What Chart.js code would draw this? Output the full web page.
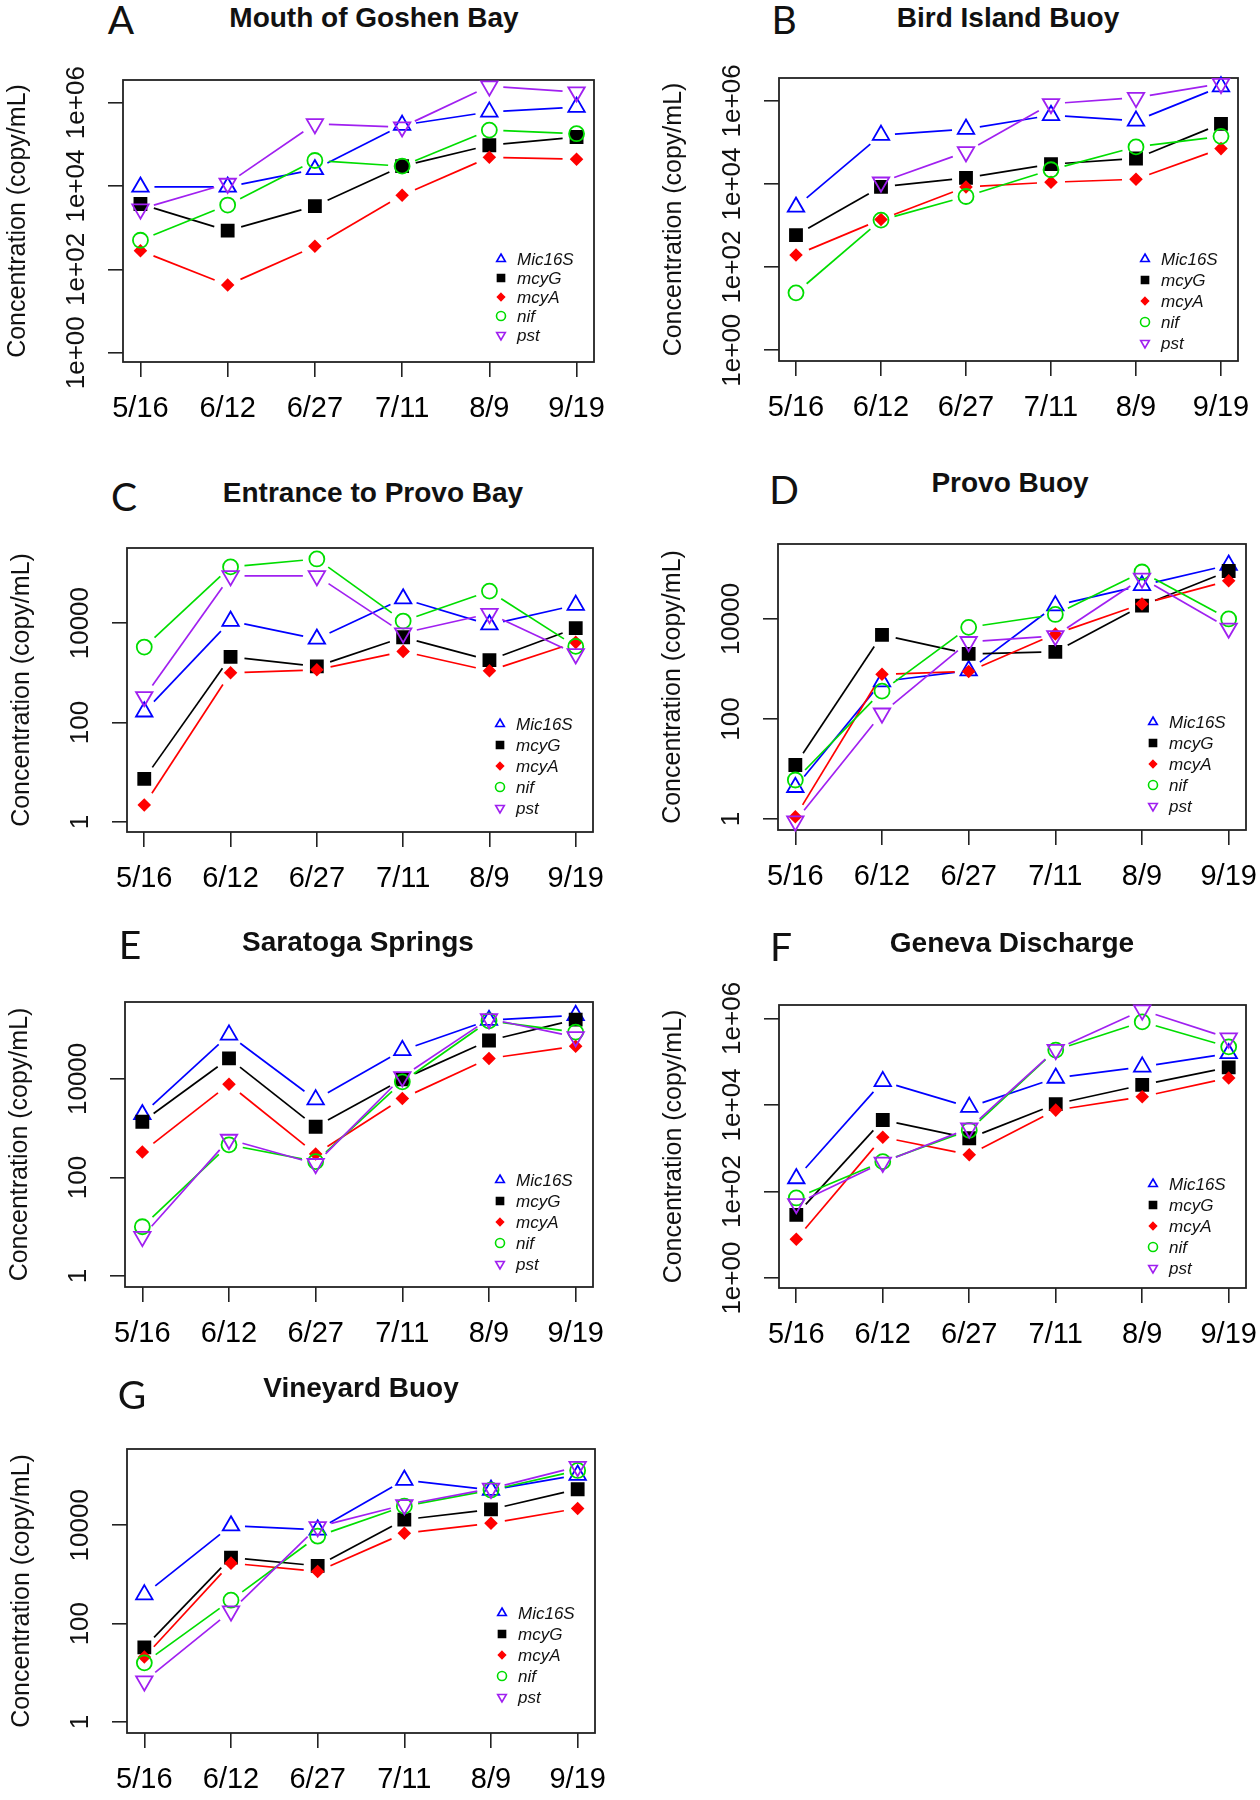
<!DOCTYPE html>
<html>
<head>
<meta charset="utf-8">
<script src="https://cdn.jsdelivr.net/npm/chart.js@4.4.1/dist/chart.umd.min.js"></script>
<style>
  body { margin: 0; background: #fff; width: 1260px; height: 1800px; position: relative; overflow: hidden;
         font-family: 'Liberation Sans', Arial, Helvetica, sans-serif; }
  canvas { position: absolute; }
  .panel-title { position: absolute; font-weight: bold; font-size: 28px; color: #111;
                 transform: translate(-50%, -50%); white-space: nowrap; }
  .panel-letter { position: absolute; font-family: Lato, 'Open Sans', sans-serif; font-size: 39px; color: #111;
                  transform: translate(-50%, -50%); line-height: 1; }
</style>
</head>
<body>
<script>
// sampling dates and genes (rows of every site array follow this order)
const dates = ['5/16', '6/12', '6/27', '7/11', '8/9', '9/19'];
const genes = ['Mic16S', 'mcyG', 'mcyA', 'nif', 'pst'];

// concentrations, copy/mL
const goshenBay = [
  [9.5e3, 9.5e3, 2.5e4, 2.9e5, 6.0e5, 7.8e5],
  [3.7e3, 8.5e2, 3.3e3, 3.0e4, 9.5e4, 1.5e5],
  [2.8e2, 42, 3.6e2, 6.0e3, 4.9e4, 4.4e4],
  [5.0e2, 3.5e3, 4.1e4, 3.0e4, 2.2e5, 1.8e5],
  [2.8e3, 1.15e4, 3.1e5, 2.6e5, 2.5e6, 1.8e6],
];
const birdIsland = [
  [2.8e3, 1.5e5, 2.1e5, 4.5e5, 3.3e5, 2.2e6],
  [5.9e2, 8.5e3, 1.4e4, 3.0e4, 4.1e4, 2.8e5],
  [1.95e2, 1.4e3, 8.5e3, 1.1e4, 1.3e4, 7.1e4],
  [24, 1.35e3, 5.0e3, 2.2e4, 7.8e4, 1.4e5],
  [null, 1.1e4, 5.9e4, 8.5e5, 1.2e6, 2.6e6],
];
const provoBayEntrance = [
  [1.65e2, 1.1e4, 4.8e3, 3.1e4, 9.3e3, 2.3e4],
  [7.4, 2.1e3, 1.35e3, 5.2e3, 1.8e3, 7.9e3],
  [2.2, 1.0e3, 1.15e3, 2.7e3, 1.1e3, 4.1e3],
  [3.3e3, 1.35e5, 1.95e5, 1.1e4, 4.4e4, 3.4e3],
  [3.3e2, 8.9e4, 8.9e4, 6.3e3, 1.55e4, 2.4e3],
];
const provoBuoy = [
  [4.3, 5.6e2, 9.3e2, 1.85e4, 4.7e4, 1.2e5],
  [12, 4.8e3, 2.0e3, 2.2e3, 1.85e4, 9.1e4],
  [1.1, 7.8e2, 8.9e2, 5.0e3, 2.0e4, 5.8e4],
  [6.0, 3.6e2, 6.8e3, 1.23e4, 8.7e4, 1.0e4],
  [0.9, 1.3e2, 3.5e3, 4.6e3, 6.5e4, 6.5e3],
];
const saratogaSprings = [
  [1.9e3, 7.8e4, 3.8e3, 3.8e4, 1.55e5, 1.95e5],
  [1.35e3, 2.6e4, 1.07e3, 9.8e3, 6.0e4, 1.6e5],
  [3.3e2, 7.8e3, 3.0e2, 4.0e3, 2.6e4, 4.6e4],
  [10, 4.6e2, 2.1e2, 8.7e3, 1.5e5, 8.9e4],
  [6.3, 5.9e2, 1.9e2, 1.1e4, 1.65e5, 7.1e4],
];
const genevaDischarge = [
  [2.0e2, 3.5e4, 8.9e3, 4.2e4, 7.6e4, 1.55e5],
  [29, 4.5e3, 1.7e3, 1.05e4, 2.9e4, 7.4e4],
  [7.9, 1.8e3, 7.1e2, 7.6e3, 1.55e4, 4.2e4],
  [71, 4.9e2, 2.6e3, 1.85e5, 8.3e5, 2.2e5],
  [52, 4.7e2, 2.9e3, 1.9e5, 1.55e6, 3.5e5],
];
const vineyardBuoy = [
  [3.9e2, 9.8e3, 8.1e3, 8.3e4, 5.2e4, 1.05e5],
  [33, 2.2e3, 1.5e3, 1.3e4, 2.1e4, 5.4e4],
  [21, 1.7e3, 1.15e3, 6.9e3, 1.1e4, 2.2e4],
  [16, 3.0e2, 6.0e3, 2.45e4, 5.2e4, 1.3e5],
  [6.8, 1.8e2, 9.3e3, 2.6e4, 5.6e4, 1.55e5],
];

// y axis limits per site
const goshenRange = [0.6, 3.5e6];
const birdRange = [0.55, 3.55e6];
const entranceRange = [0.63, 3.24e5];
const provoRange = [0.6, 3.16e5];
const saratogaRange = [0.6, 3.63e5];
const genevaRange = [0.59, 2.04e6];
const vineyardRange = [0.6, 3.55e5];

// tick sets
const expTicks = [1, 1e2, 1e4, 1e6];
const expTickLabels = ['1e+00', '1e+02', '1e+04', '1e+06'];
const plainTicks = [1, 1e2, 1e4];
const plainTickLabels = ['1', '100', '10000'];

const FONT = "'Liberation Sans', Arial, Helvetica, sans-serif";
Chart.defaults.font.family = FONT;
Chart.defaults.color = '#111';

const GAP = 14; // R type="b": lines stop short of the points

// dash pattern that leaves a gap at both ends of each segment
function gapDash(c) {
  const len = Math.hypot(c.p1.x - c.p0.x, c.p1.y - c.p0.y);
  if (len <= 2 * GAP) return [0, len + 1];
  return [0, GAP, len - 2 * GAP, GAP];
}

const geneStyles = [
  { color: '#0000ff', shape: 'triangle', radius: 9.5, rotation: 0,   solid: false, key: 5 },
  { color: '#000000', shape: 'rect',     radius: 8.5, rotation: 0,   solid: true,  key: 5 },
  { color: '#ff0000', shape: 'rectRot',  radius: 5.5, rotation: 0,   solid: true,  key: 3.5 },
  { color: '#00dd00', shape: 'circle',   radius: 7.5, rotation: 0,   solid: false, key: 4.5 },
  { color: '#a020f0', shape: 'triangle', radius: 9.5, rotation: 180, solid: false, key: 5 },
];

const panels = [
  { letter: 'A', title: 'Mouth of Goshen Bay', rows: goshenBay, range: goshenRange, ticks: expTicks, labels: expTickLabels,
    box: [123, 80, 594, 362], titleAt: [374, 18], letterAt: [121, 19], legendUp: 27, legendStep: 19 },
  { letter: 'B', title: 'Bird Island Buoy', rows: birdIsland, range: birdRange, ticks: expTicks, labels: expTickLabels,
    box: [779, 78, 1238, 361], titleAt: [1008, 18], letterAt: [784, 19], legendUp: 18, legendStep: 21 },
  { letter: 'C', title: 'Entrance to Provo Bay', rows: provoBayEntrance, range: entranceRange, ticks: plainTicks, labels: plainTickLabels,
    box: [127, 548, 593, 832], titleAt: [373, 493], letterAt: [124, 496], legendUp: 24, legendStep: 21 },
  { letter: 'D', title: 'Provo Buoy', rows: provoBuoy, range: provoRange, ticks: plainTicks, labels: plainTickLabels,
    box: [778, 544, 1246, 830], titleAt: [1010, 483], letterAt: [784, 489], legendUp: 24, legendStep: 21 },
  { letter: 'E', title: 'Saratoga Springs', rows: saratogaSprings, range: saratogaRange, ticks: plainTicks, labels: plainTickLabels,
    box: [125, 1002, 593, 1287], titleAt: [358, 942], letterAt: [130, 944], legendUp: 23, legendStep: 21 },
  { letter: 'F', title: 'Geneva Discharge', rows: genevaDischarge, range: genevaRange, ticks: expTicks, labels: expTickLabels,
    box: [779, 1005, 1246, 1288], titleAt: [1012, 943], letterAt: [781, 946], legendUp: 20, legendStep: 21 },
  { letter: 'G', title: 'Vineyard Buoy', rows: vineyardBuoy, range: vineyardRange, ticks: plainTicks, labels: plainTickLabels,
    box: [127, 1449, 595, 1733], titleAt: [361, 1388], letterAt: [132, 1394], legendUp: 36, legendStep: 21 },
];

function drawMarker(ctx, st, x, y, r) {
  ctx.save();
  ctx.translate(x, y);
  ctx.rotate(st.rotation * Math.PI / 180);
  ctx.beginPath();
  if (st.shape === 'triangle') {
    for (let k = 0; k < 3; k++) {
      const a = -Math.PI / 2 + k * 2 * Math.PI / 3;
      ctx.lineTo(Math.cos(a) * r, Math.sin(a) * r);
    }
    ctx.closePath();
  } else if (st.shape === 'rect') {
    const s = r * Math.SQRT1_2;
    ctx.rect(-s, -s, 2 * s, 2 * s);
  } else if (st.shape === 'rectRot') {
    ctx.moveTo(0, -r); ctx.lineTo(r, 0); ctx.lineTo(0, r); ctx.lineTo(-r, 0); ctx.closePath();
  } else {
    ctx.arc(0, 0, r, 0, Math.PI * 2);
  }
  if (st.solid) { ctx.fillStyle = st.color; ctx.fill(); }
  ctx.strokeStyle = st.color;
  ctx.lineWidth = 1.6;
  ctx.stroke();
  ctx.restore();
}

// R-like frame: box, vertical y tick labels, legend without border
function rFrame(p) {
  return {
    id: 'rFrame',
    beforeDatasetsDraw(chart) {
      const { ctx, chartArea: a, scales: { y } } = chart;
      ctx.save();
      ctx.strokeStyle = '#222';
      ctx.lineWidth = 1.8;
      ctx.strokeRect(a.left, a.top, a.right - a.left, a.bottom - a.top);
      ctx.font = '26px ' + FONT;
      ctx.fillStyle = '#111';
      ctx.textAlign = 'center';
      ctx.textBaseline = 'middle';
      y.ticks.forEach(t => {
        ctx.save();
        ctx.translate(a.left - 46, y.getPixelForValue(t.value));
        ctx.rotate(-Math.PI / 2);
        ctx.fillText(t.label, 0, 0);
        ctx.restore();
      });
      ctx.restore();
    },
    afterDatasetsDraw(chart) {
      const { ctx, chartArea: a } = chart;
      const x0 = a.right - 93;
      const yLast = a.bottom - p.legendUp;
      ctx.save();
      ctx.font = 'italic 17px ' + FONT;
      ctx.textBaseline = 'middle';
      genes.forEach((g, i) => {
        const yy = yLast - (genes.length - 1 - i) * p.legendStep;
        drawMarker(ctx, geneStyles[i], x0, yy, geneStyles[i].key);
        ctx.fillStyle = '#111';
        ctx.fillText(g, x0 + 16, yy + 1);
      });
      ctx.restore();
    }
  };
}

function fitBox(chart, box) {
  const bw = box[2] - box[0], bh = box[3] - box[1];
  for (let k = 0; k < 4; k++) {
    const ca = chart.chartArea;
    const dw = (ca.right - ca.left) - bw;
    const dh = (ca.bottom - ca.top) - bh;
    if (Math.abs(dw) < 0.3 && Math.abs(dh) < 0.3) break;
    const pad = chart.options.layout.padding;
    pad.right += dw;
    pad.bottom += dh;
    chart.update();
  }
  const ca = chart.chartArea;
  chart.canvas.style.left = (box[0] - ca.left) + 'px';
  chart.canvas.style.top = (box[1] - ca.top) + 'px';
}

function addText(cls, text, at) {
  const d = document.createElement('div');
  d.className = cls;
  d.textContent = text;
  d.style.left = at[0] + 'px';
  d.style.top = at[1] + 'px';
  document.body.appendChild(d);
}

panels.forEach(p => {
  addText('panel-title', p.title, p.titleAt);
  addText('panel-letter', p.letter, p.letterAt);

  const bw = p.box[2] - p.box[0], bh = p.box[3] - p.box[1];
  const canvas = document.createElement('canvas');
  canvas.width = 123 + bw + 60;
  canvas.height = 40 + bh + 100;
  canvas.style.width = canvas.width + 'px';
  canvas.style.height = canvas.height + 'px';
  document.body.appendChild(canvas);

  const datasets = [];
  genes.forEach((g, i) => {
    const st = geneStyles[i];
    const pts = p.rows[i].map((v, j) => ({ x: j + 1, y: v }));
    // connecting lines, broken near each point
    datasets.push({
      label: g + ' line',
      data: pts,
      borderColor: st.color,
      borderWidth: 1.7,
      pointRadius: 0,
      pointHoverRadius: 0,
      tension: 0,
      spanGaps: false,
      clip: false,
      segment: { borderDash: gapDash },
      order: 100 - i,
    });
    // point symbols
    datasets.push({
      label: g,
      data: pts,
      showLine: false,
      borderColor: st.color,
      backgroundColor: st.solid ? st.color : 'rgba(0,0,0,0)',
      pointBorderColor: st.color,
      pointBackgroundColor: st.solid ? st.color : 'rgba(0,0,0,0)',
      pointStyle: st.shape,
      pointRotation: st.rotation,
      pointRadius: st.radius,
      pointBorderWidth: 1.8,
      clip: false,
      order: 10 - i,
    });
  });

  const chart = new Chart(canvas, {
    type: 'line',
    data: { datasets },
    plugins: [rFrame(p)],
    options: {
      responsive: false,
      animation: false,
      layout: { padding: { left: 0, top: 40, right: 60, bottom: 35 } },
      plugins: { legend: { display: false }, tooltip: { enabled: false } },
      scales: {
        x: {
          type: 'linear',
          min: 0.8,
          max: 6.2,
          afterBuildTicks: s => { s.ticks = dates.map((d, i) => ({ value: i + 1 })); },
          ticks: {
            callback: v => dates[Math.round(v) - 1],
            font: { size: 29 },
            color: '#000',
            padding: 15,
            autoSkip: false,
            maxRotation: 0,
          },
          grid: { drawOnChartArea: false, tickLength: 15, color: '#222', lineWidth: 1.6 },
          border: { display: false },
        },
        y: {
          type: 'logarithmic',
          bounds: 'data',
          min: p.range[0],
          max: p.range[1],
          afterBuildTicks: s => { s.ticks = p.ticks.map(v => ({ value: v })); },
          ticks: {
            display: false,
            callback: v => p.labels[p.ticks.indexOf(v)],
          },
          grid: { drawOnChartArea: false, tickLength: 15, color: '#222', lineWidth: 1.6 },
          border: { display: false },
          title: {
            display: true,
            text: 'Concentration (copy/mL)',
            font: { size: 25 },
            color: '#111',
            padding: { top: 3, bottom: 75 },
          },
        },
      },
    },
  });

  fitBox(chart, p.box);
});
</script>
</body>
</html>
